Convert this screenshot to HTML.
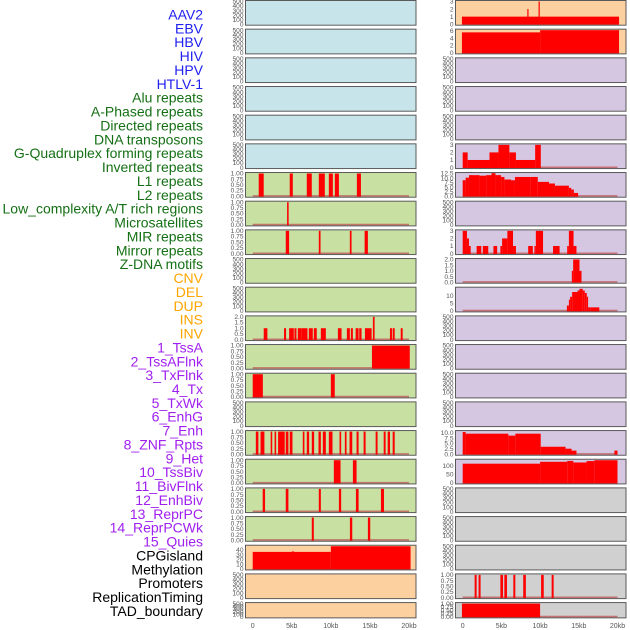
<!DOCTYPE html>
<html><head><meta charset="utf-8"><style>
html,body{margin:0;padding:0;background:#fff;}
svg{display:block;font-family:"Liberation Sans",sans-serif;}
</style></head><body>
<svg id="chart" width="630" height="630" viewBox="0 0 630 630" xmlns="http://www.w3.org/2000/svg"></svg>
<script>
const trackLabels = ["AAV2","EBV","HBV","HIV","HPV","HTLV-1","Alu repeats","A-Phased repeats","Directed repeats","DNA transposons","G-Quadruplex forming repeats","Inverted repeats","L1 repeats","L2 repeats","Low_complexity A/T rich regions","Microsatellites","MIR repeats","Mirror repeats","Z-DNA motifs","CNV","DEL","DUP","INS","INV","1_TssA","2_TssAFlnk","3_TxFlnk","4_Tx","5_TxWk","6_EnhG","7_Enh","8_ZNF_Rpts","9_Het","10_TssBiv","11_BivFlnk","12_EnhBiv","13_ReprPC","14_ReprPCWk","15_Quies","CPGisland","Methylation","Promoters","ReplicationTiming","TAD_boundary"];
const labelGroups = [6,13,5,15,5];
const groupColors = ["#2020f0","#157015","#ffa500","#a020f0","#000000"];
const xTicks = [0,5000,10000,15000,20000];
const xTickLabels = ["0","5kb","10kb","15kb","20kb"];
const emptyTicks = [0,100,200,300,400,500];
const unitTicks = [0,0.25,0.5,0.75,1];

const L7 = [[770,1410,1],[4740,5130,1],[6920,7560,1],[8460,9230,1],[9740,10260,1],[10510,11030,1],[13330,13850,1]];
const L8 = [[4400,4600,1]];
const L9 = [[4230,4660,1],[8460,8680,1],[12430,12650,1],[14320,14740,1]];
const L12 = [[1410,1880,1],[4010,4270,1],[4660,5260,1],[5340,5600,1],[5770,6280,1],[6280,7010,1],[7180,7690,1],[7820,8200,1],[8720,9360,1],[10900,11370,1],[12050,12430,1],[12560,12820,1],[13170,13550,1],[13630,13930,1],[14360,15220,1],[15380,15600,2],[17560,17820,1],[17910,18170,1],[18940,19190,1]];
const L13 = [[15260,20100,1]];
const L14 = [[0,1300,1],[10000,10500,1]];
const L16 = [[400,730,1],[1000,1500,1],[2300,2500,1],[2800,3000,1],[3250,4100,1],[4230,4570,1],[4740,5090,1],[6410,6620,1],[6920,7220,1],[7560,7860,1],[8420,8720,1],[8970,9360,1],[9740,10210,1],[11110,11320,1],[11790,12010,1],[12390,12740,1],[13290,13550,1],[14190,14450,1],[15730,15980,1],[16760,17010,1],[17270,17570,1],[17910,18170,1]];
const L17 = [[10380,11240,1],[12820,13290,1]];
const L18 = [[1280,1580,1],[4230,4570,1],[8460,8720,1],[11030,11320,1],[13210,13550,1],[16410,16800,1]];
const L19 = [[7560,7820,1],[12440,12740,1],[14740,15040,1]];
const L20 = [[0,10000,36],[5000,5300,37],[10000,20200,48]];
const R1 = [[-100,20200,1],[8350,8500,2],[9800,9950,3]];
const R2 = [[-100,10000,5.6],[10000,20200,6.2]];
const R6 = [[0,640,2],[640,3460,1],[3460,4620,2],[4620,6030,3],[6030,6880,2],[6880,9360,1],[9360,10090,3]];
const R7 = [[0,380,8.8],[380,810,10.2],[810,2180,11.6],[2180,3030,11.3],[3030,3720,11.6],[3720,4230,12.7],[4230,4960,11.6],[4960,5390,10.6],[5390,6240,9.2],[6240,6750,8.8],[6750,8800,10.6],[8800,9700,10.6],[9700,11150,7.9],[11150,11920,7],[11920,13720,5.8],[13720,14020,4.6],[14020,14360,3.7],[14360,14910,1.8]];
const R9 = [[0,550,3],[550,810,2],[810,1030,1],[1800,2400,1],[2600,3300,1],[3970,4450,1],[4870,5090,1],[5090,5770,2],[5770,6500,3],[6500,6880,1],[8460,9060,1],[9270,9450,1],[9450,10380,3],[11670,12520,1],[13500,13720,1],[13720,14320,3],[14320,14700,1]];
const R10 = [[14100,14270,1],[14270,15090,2],[15090,15350,1]];
const R11 = [[13460,13720,3.5],[13720,13880,7.3],[13880,14140,9.2],[14140,14830,12.3],[14830,15090,13.3],[15090,15510,14.4],[15510,15770,13.3],[15770,16030,11.7],[16030,16200,9.2],[16200,16540,2.3],[16540,17650,2.3]];
const R16 = [[0,380,10.4],[380,5900,9.6],[5900,6800,8.7],[6800,10080,9.6],[10080,13290,3.5],[13290,14060,2.6],[14060,14700,1.7],[19600,20000,1.7]];
const R17 = [[0,10000,111],[10000,13500,122],[13500,14300,127],[14300,16000,118],[16000,17000,126],[17000,20000,131]];
const R21 = [[1540,1800,1],[2050,2310,1],[4870,5210,1],[5380,5720,1],[6540,6800,1],[7820,8160,1],[10130,10470,1],[11490,11750,1]];
const R22 = [[-100,10000,1]];

const BLUE="#c7e4eb", GREEN="#c8e1a3", ORANGE="#fdd09f", PURPLE="#d5c6e1", GRAY="#d0d0d0";
const leftPanels = [
 [BLUE,null,emptyTicks,500],[BLUE,null,emptyTicks,500],[BLUE,null,emptyTicks,500],[BLUE,null,emptyTicks,500],[BLUE,null,emptyTicks,500],[BLUE,null,emptyTicks,500],
 [GREEN,L7,unitTicks,1],[GREEN,L8,unitTicks,1],[GREEN,L9,unitTicks,1],[GREEN,null,emptyTicks,500],[GREEN,null,emptyTicks,500],
 [GREEN,L12,[0,0.5,1,1.5,2],2],[GREEN,L13,unitTicks,1],[GREEN,L14,unitTicks,1],[GREEN,null,emptyTicks,500],
 [GREEN,L16,unitTicks,1],[GREEN,L17,unitTicks,1],[GREEN,L18,unitTicks,1],[GREEN,L19,unitTicks,1],
 [ORANGE,L20,[0,10,20,30,40],48],[ORANGE,null,emptyTicks,500],[ORANGE,null,emptyTicks,500]];
const rightPanels = [
 [ORANGE,R1,[0,1,2,3],3],[ORANGE,R2,[0,2,4,6],6.2],
 [PURPLE,null,emptyTicks,500],[PURPLE,null,emptyTicks,500],[PURPLE,null,emptyTicks,500],
 [PURPLE,R6,[0,1,2,3],3],[PURPLE,R7,[0,2.5,5,7.5,10,12.5],12.5],[PURPLE,null,emptyTicks,500],
 [PURPLE,R9,[0,1,2,3],3],[PURPLE,R10,[0,0.5,1,1.5,2],2],[PURPLE,R11,[0,5,10],14.8],
 [PURPLE,null,emptyTicks,500],[PURPLE,null,emptyTicks,500],[PURPLE,null,emptyTicks,500],[PURPLE,null,emptyTicks,500],
 [PURPLE,R16,[0,2.5,5,7.5,10],10.6],[PURPLE,R17,[0,50,100],131],
 [GRAY,null,emptyTicks,500],[GRAY,null,emptyTicks,500],[GRAY,null,emptyTicks,500],
 [GRAY,R21,unitTicks,1],[GRAY,R22,unitTicks,1]];

const NS="http://www.w3.org/2000/svg";
const svg=document.getElementById('chart');
function mk(tag,attrs,parent){const e=document.createElementNS(NS,tag);for(const k in attrs)e.setAttribute(k,attrs[k]);(parent||svg).appendChild(e);return e;}

let li=0;
labelGroups.forEach((n,g)=>{for(let k=0;k<n;k++){
  const t=mk('text',{x:203,y:(19.5+li*13.87).toFixed(1),'text-anchor':'end','font-size':'14px',fill:groupColors[g]});
  t.textContent=trackLabels[li];
  
  
  li++;}});

function fmt(v,ticks){const dec=ticks.some(t=>t%1!==0)?(ticks.some(t=>(t*10)%1!==0)?2:1):0;return v.toFixed(dec);}

function drawColumn(panels,px0,px1,x0,x1,col){
  const xs=v=>x0+(v/20000)*(x1-x0);
  panels.forEach((p,i)=>{
    const [bg,data,ticks,ymax]=p;
    const top=i*28.67+0.5, h=(i===21)?15.3:24.7, bot=top+h;
    const g=mk('g',{});
    
    
    const r=mk('rect',{x:px0,y:top,width:px1-px0,height:h,fill:bg,stroke:'none'},g);
    
    
    const ys=v=>(bot-1)-(v/ymax)*(h-2);
    if(data){
      const bl=mk('line',{x1:xs(0),x2:xs(20000),y1:bot-1.3,y2:bot-1.3,stroke:'#c05a5a','stroke-width':1.6,'stroke-opacity':0.8},g);
      
      
      data.forEach(d=>{
        const xa=Math.max(px0+0.5,xs(d[0])), xb=Math.min(px1-0.5,xs(d[1]));
        const yt=Math.max(top+0.5,ys(d[2]));
        const b=mk('rect',{x:xa,y:yt,width:Math.max(1.2,xb-xa),height:bot-0.5-yt,fill:'#ff0000'},g);
        
        
      });
    }
    const fr=mk('rect',{x:px0,y:top,width:px1-px0,height:h,fill:'none',stroke:'#5a5a5a','stroke-width':1},g);
    
    
    ticks.forEach(t=>{
      const tt=mk('text',{x:px0-2,y:(ys(t)+2.2).toFixed(1),'text-anchor':'end','font-size':'6.6px',fill:'#555'},g);
      tt.textContent=fmt(t,ticks);
      
      
    });
  });
  xTicks.forEach((t,k)=>{
    const tl=mk('text',{x:xs(t),y:628,'text-anchor':'middle','font-size':'7px',fill:'#555'});
    tl.textContent=xTickLabels[k];
    
    
  });
}
drawColumn(leftPanels,245.5,416,252.7,409,'left');
drawColumn(rightPanels,455.5,626,462.7,617.5,'right');
</script>
</body></html>
